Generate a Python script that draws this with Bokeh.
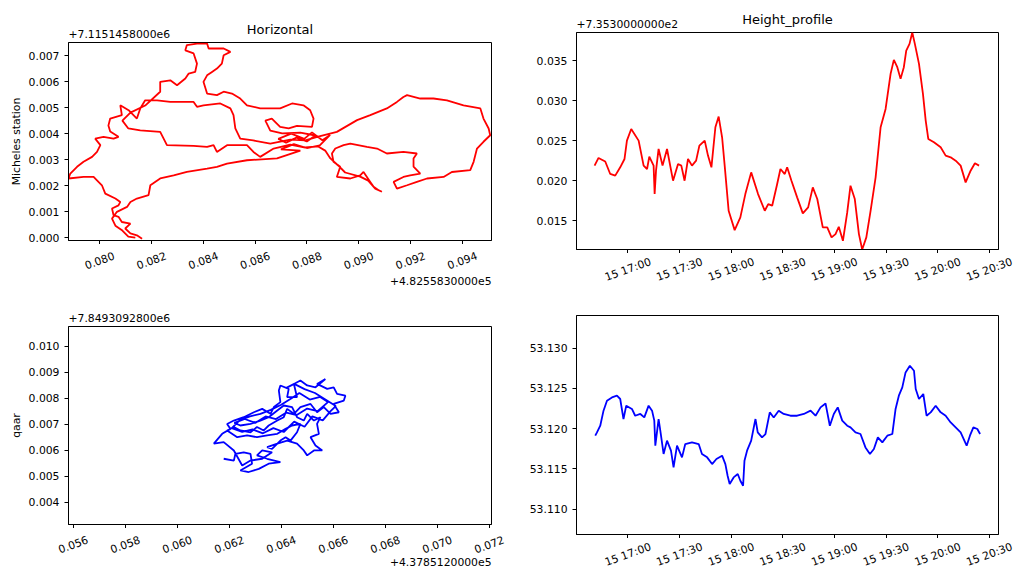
import datetime as dt
from bokeh.plotting import figure
from bokeh.layouts import row, column
from bokeh.models import Range1d, FixedTicker, PrintfTickFormatter, CustomJSTickFormatter
from bokeh.core.properties import value
from bokeh.embed import file_html
from bokeh.resources import INLINE

# ---------------- data ----------------
# Horizontal track, Micheles station (mm above the offsets)
mich_east_mm = [81.64, 81.44, 81.19, 80.99, 81.19, 80.86, 80.73, 80.54, 80.48, 80.73, 80.80, 80.61, 80.22, 80.09, 79.90, 79.77, 79.38, 78.80, 78.87, 79.13,
                79.38, 79.71, 79.90, 80.03, 79.83, 80.15, 80.54, 80.73, 80.41, 80.34, 80.41, 80.86, 80.80, 81.12, 81.44, 81.57, 81.76,
                82.22, 82.73, 83.63, 83.76, 84.01, 84.66, 85.05, 85.17, 85.24, 85.43, 85.93, 86.59, 87.36, 87.94, 88.44,
                89.16, 89.94, 90.45, 91.09, 91.48, 91.73, 91.87, 92.38, 92.89, 93.41, 94.05, 94.70, 94.82, 95.02, 95.08, 94.82, 94.57, 94.44,
                94.31, 93.60, 93.28, 92.64, 92.25, 91.87, 91.48, 91.35, 91.73, 91.99, 92.38, 92.12, 92.12, 92.25, 91.73, 91.09, 90.71, 90.32,
                89.68, 89.42, 89.10, 88.97, 89.03, 89.29, 89.16, 89.68, 90.06, 90.19, 90.45, 90.58, 90.77, 90.90, 90.64, 90.37, 90.06, 89.48,
                89.21, 88.91, 88.71, 88.44,
                87.94, 87.36, 86.72, 86.20, 85.94, 85.69, 84.92, 84.53, 84.40, 84.15, 83.63, 82.60, 82.34, 81.57, 81.11,
                80.88, 81.19, 81.76, 82.34, 82.34, 82.73, 82.99, 83.31, 83.44, 83.69, 83.76, 83.63, 83.31, 83.37, 83.76, 84.15, 84.21, 84.79,
                85.05, 84.79, 84.72, 84.53, 84.34, 84.15, 84.01, 84.15, 84.53, 84.79, 85.11, 85.43, 85.69, 86.20, 86.97, 87.43, 87.87, 88.13,
                88.26, 88.20, 87.62, 87.30, 86.97, 86.65, 86.40, 86.59, 87.05, 87.75, 88.33,
                88.00, 87.60, 87.20, 86.90, 87.40, 87.90, 88.20, 88.60, 88.90, 88.50, 88.00, 87.50, 87.00,
                87.75, 87.17,
                86.85, 85.69, 84.92, 84.53, 84.15, 83.37, 82.86, 82.34, 81.96, 81.89, 81.44, 81.19, 81.06, 80.67, 80.48, 80.61, 80.88, 81.11, 81.38]
mich_north_mm = [-0.03, 0.10, 0.17, 0.36, 0.55, 0.61, 0.81, 0.87, 1.13, 1.25, 1.38, 1.51, 1.70, 2.02, 2.21, 2.34, 2.34, 2.28, 2.47, 2.73,
                 2.92, 3.11, 3.30, 3.56, 3.81, 3.88, 3.81, 3.88, 4.08, 4.31, 4.58, 4.71, 5.09, 4.90, 4.58, 4.97, 5.28,
                 5.28, 5.22, 5.22, 5.03, 5.09, 5.16, 4.97, 4.71, 4.20, 3.81, 3.74, 3.62, 3.77, 3.74, 3.89,
                 4.07, 4.52, 4.71, 4.97, 5.22, 5.41, 5.48, 5.35, 5.35, 5.28, 5.09, 4.97, 4.58, 4.20, 3.94, 3.69, 3.43, 2.92,
                 2.60, 2.53, 2.34, 2.28, 2.15, 2.02, 1.89, 2.15, 2.34, 2.40, 2.47, 2.74, 3.05, 3.24, 3.30, 3.24, 3.43, 3.49,
                 3.62, 3.56, 3.43, 3.24, 2.92, 2.73, 2.34, 2.28, 2.40, 2.53, 2.15, 1.96, 1.83, 1.77, 1.89, 2.20, 2.35, 2.51,
                 2.78, 3.05, 3.35, 3.51,
                 3.47, 3.58, 3.43, 3.11, 3.30, 3.56, 3.56, 3.30, 3.56, 3.49, 3.53, 3.56, 4.07, 4.13, 4.20,
                 4.50, 4.81, 5.08, 5.61, 5.99, 6.05, 5.86, 6.12, 6.31, 6.37, 6.69, 7.08, 7.20, 7.40, 7.46, 7.46, 7.27, 7.27,
                 7.14, 7.01, 6.69, 6.50, 6.37, 6.24, 5.99, 5.54, 5.48, 5.61, 5.54, 5.35, 5.09, 4.97, 4.97, 5.16, 5.09, 4.90,
                 4.58, 4.26, 4.30, 4.20, 4.26, 4.58, 4.50, 4.12, 4.01, 4.04, 3.93,
                 3.70, 3.85, 3.65, 3.80, 4.00, 3.80, 4.05, 3.75, 3.95, 3.55, 3.45, 3.60, 3.40,
                 3.35, 3.16,
                 3.05, 2.98, 2.85, 2.73, 2.66, 2.53, 2.40, 2.28, 2.02, 1.64, 1.51, 1.38, 1.19, 1.00, 0.74, 0.47, 0.28, 0.05, 0.01]

# Horizontal track, qaar (mm above the offsets)
qaar_east_mm = [61.79, 62.18, 62.24, 62.56, 62.82, 62.88, 62.43, 62.75, 63.14, 63.52, 63.97, 63.46, 63.07, 63.27, 63.65, 63.27, 62.82, 62.50,
                62.18, 61.79, 61.41, 61.73, 62.05, 61.92, 62.18, 62.56, 62.95, 63.27, 63.59, 63.72, 63.97, 63.91, 63.97, 64.29, 64.23, 64.61,
                64.49, 64.74, 65.00, 65.32, 65.70, 65.38, 65.77, 66.02, 66.15, 66.47, 66.41, 66.02, 66.22, 65.90, 65.64, 65.38, 65.13, 64.74,
                64.49, 64.23, 64.10, 63.85, 63.52, 63.33, 63.07, 62.82, 62.43, 62.18, 61.92, 62.31, 62.69, 63.07, 63.46, 63.85, 64.17, 64.42,
                64.74, 64.61, 64.36, 64.17, 63.97, 63.65, 63.46, 63.85, 64.23, 64.61, 64.87, 65.00, 65.26, 65.58, 65.32, 65.13, 65.45, 65.38,
                65.51, 65.26, 65.00, 64.87, 64.61, 64.42, 64.10, 63.85, 63.52, 63.20, 62.82, 62.43,
                62.20, 62.60, 63.00, 63.40, 63.80, 64.20, 64.60, 65.00, 65.40, 65.80, 65.50, 65.10, 64.70, 64.40, 64.00, 63.60, 63.20, 62.80,
                62.40, 62.10, 62.50, 62.90, 63.30, 63.70, 64.10, 64.50, 64.90, 65.20, 65.60, 65.90, 66.10, 65.70, 65.30, 64.90, 64.50, 64.20]
qaar_north_mm = [5.67, 5.60, 5.86, 5.92, 5.86, 5.48, 5.22, 5.16, 5.28, 5.48, 5.54, 5.67, 5.80, 5.99, 5.92, 5.67, 5.60, 5.41,
                 5.99, 6.31, 6.25, 6.63, 6.82, 7.01, 7.14, 7.27, 7.46, 7.59, 7.40, 7.66, 7.85, 8.30, 8.49, 8.36, 8.04, 8.04,
                 8.55, 8.68, 8.49, 8.42, 8.74, 8.55, 8.36, 8.42, 8.17, 8.10, 7.91, 7.78, 7.46, 7.40, 7.66, 7.46, 7.78, 7.66,
                 7.40, 7.59, 7.27, 7.14, 6.95, 6.76, 6.89, 6.69, 6.76, 6.89, 6.76, 6.50, 6.57, 6.50, 6.57, 6.63, 6.82, 6.95,
                 7.01, 6.69, 6.37, 6.50, 6.37, 6.05, 6.12, 6.25, 6.37, 6.25, 5.99, 5.80, 5.99, 5.99, 6.18, 6.50, 6.63, 7.01,
                 7.27, 7.14, 7.40, 7.14, 7.27, 7.66, 7.72, 7.53, 7.27, 7.14, 7.01, 6.95,
                 7.05, 7.20, 7.05, 7.30, 7.20, 7.45, 7.35, 7.60, 7.50, 7.85, 8.05, 7.95, 8.20, 8.00, 7.75, 7.55, 7.40, 7.30,
                 7.15, 6.85, 6.70, 6.80, 6.65, 6.85, 6.70, 7.10, 6.90, 7.30, 7.15, 7.50, 7.70, 7.95, 8.20, 8.35, 8.55, 8.40]

# Height profile, Micheles station: minutes after 16:00, metres above 735.3
mich_minutes = [40.6, 42.9, 46.8, 49.7, 52.6, 55.5, 58.0, 59.4, 61.9, 66.2, 69.1, 71.1, 72.4, 74.9, 75.5, 76.3, 77.8, 80.1, 82.7, 86.2,
                89.1, 91.0, 92.9, 94.9, 97.2, 99.6, 101.5, 104.6, 106.5, 108.5, 110.8, 112.7, 114.7, 116.2, 118.5, 122.0, 125.3, 128.2,
                131.6, 135.6, 139.5, 141.5, 143.8, 146.7, 148.6, 151.1, 152.5, 155.0, 158.3, 161.6, 164.7, 167.4, 170.0, 173.2, 175.8,
                178.3, 180.6, 182.5, 184.9, 187.4, 189.3, 191.8, 194.2, 196.1, 198.5, 201.0, 203.9, 206.8, 209.7, 212.6, 214.5, 216.5,
                218.4, 220.3, 221.7, 223.6, 225.2, 226.7, 229.1, 231.4, 233.0, 234.5, 237.8, 241.7, 244.6, 247.5, 250.4, 253.3, 256.2,
                259.1, 261.6, 264.0]
mich_height = [0.02188, 0.02284, 0.02240, 0.02084, 0.02063, 0.02167, 0.02271, 0.02500, 0.02646, 0.02500, 0.02188, 0.02146, 0.02300,
               0.02188, 0.01833, 0.02125, 0.02396, 0.02188, 0.02396, 0.02000, 0.02208, 0.02188, 0.02000, 0.02271, 0.02188, 0.02250,
               0.02438, 0.02500, 0.02313, 0.02167, 0.02667, 0.02800, 0.02542, 0.02188, 0.01625, 0.01383, 0.01542, 0.01833, 0.02104,
               0.01833, 0.01625, 0.01708, 0.01688, 0.01958, 0.02146, 0.02083, 0.02167, 0.02000, 0.01792, 0.01592, 0.01667, 0.01917,
               0.01771, 0.01417, 0.01417, 0.01292, 0.01333, 0.01425, 0.01250, 0.01604, 0.01938, 0.01771, 0.01333, 0.01141, 0.01292,
               0.01625, 0.02042, 0.02667, 0.02896, 0.03333, 0.03508, 0.03417, 0.03271, 0.03417, 0.03625, 0.03708, 0.03850, 0.03708,
               0.03458, 0.03083, 0.02750, 0.02521, 0.02479, 0.02417, 0.02313, 0.02292, 0.02250, 0.02188, 0.01979, 0.02125, 0.02217,
               0.02188]

# Height profile, qaar: minutes after 16:00, metres
qaar_minutes = [41.0, 42.0, 43.9, 45.8, 47.8, 50.7, 53.6, 55.5, 57.4, 59.0, 62.3, 64.2, 67.2, 69.5, 72.0, 74.0, 75.3, 75.9, 77.8, 78.8,
                80.7, 82.7, 85.0, 86.5, 88.5, 91.4, 93.3, 97.2, 101.1, 103.0, 106.0, 108.9, 111.4, 114.7, 116.6, 117.9, 119.1, 121.4,
                123.8, 125.3, 126.9, 127.7, 129.2, 131.6, 133.5, 134.1, 135.4, 137.9, 139.9, 142.4, 144.7, 147.6, 150.5, 154.4, 158.3,
                162.2, 166.1, 169.0, 171.9, 174.8, 177.3, 179.6, 181.9, 184.5, 187.4, 189.3, 192.2, 195.1, 198.0, 200.6, 202.9, 205.2,
                207.8, 210.7, 213.6, 215.5, 217.4, 219.4, 221.3, 223.8, 226.2, 227.2, 229.1, 231.6, 233.5, 235.9, 238.8, 241.7, 244.6,
                247.5, 250.4, 253.3, 256.8, 258.7, 260.7, 263.0, 264.6]
qaar_height = [53.11913, 53.11954, 53.12037, 53.12224, 53.12348, 53.12389, 53.12410, 53.12369, 53.12120, 53.12286, 53.12245, 53.12161,
               53.12183, 53.12140, 53.12286, 53.12224, 53.12100, 53.11789, 53.12120, 53.11975, 53.11686, 53.11851, 53.11727, 53.11520,
               53.11789, 53.11644, 53.11810, 53.11830, 53.11810, 53.11686, 53.11644, 53.11561, 53.11624, 53.11665, 53.11561, 53.11416,
               53.11313, 53.11395, 53.11437, 53.11354, 53.11292, 53.11603, 53.11727, 53.11851, 53.12058, 53.12120, 53.11954, 53.11892,
               53.11934, 53.12203, 53.12140, 53.12224, 53.12183, 53.12161, 53.12161, 53.12183, 53.12224, 53.12161, 53.12265, 53.12314,
               53.12037, 53.12183, 53.12265, 53.12100, 53.12037, 53.12016, 53.11954, 53.11934, 53.11768, 53.11686, 53.11748, 53.11892,
               53.11830, 53.11913, 53.11934, 53.12245, 53.12410, 53.12513, 53.12699, 53.12782, 53.12720, 53.12493, 53.12369, 53.12431,
               53.12161, 53.12203, 53.12286, 53.12203, 53.12161, 53.12078, 53.12016, 53.11954, 53.11789, 53.11913, 53.12016, 53.11996,
               53.11934]

# ticks
tl_xticks = [0.080, 0.082, 0.084, 0.086, 0.088, 0.090, 0.092, 0.094]
tl_yticks = [0.000, 0.001, 0.002, 0.003, 0.004, 0.005, 0.006, 0.007]
bl_xticks = [0.056, 0.058, 0.060, 0.062, 0.064, 0.066, 0.068, 0.070, 0.072]
bl_yticks = [0.004, 0.005, 0.006, 0.007, 0.008, 0.009, 0.010]
tr_yticks = [0.015, 0.020, 0.025, 0.030, 0.035]
br_yticks = [53.110, 53.115, 53.120, 53.125, 53.130]
time_tick_minutes = [60, 90, 120, 150, 180, 210, 240, 270]

title_left = "Horizontal"
title_right = "Height_profile"
ylabel_top = "Micheles station"
ylabel_bottom = "qaar"
offset_mich_n = "+7.1151458000e6"
offset_mich_e = "+4.8255830000e5"
offset_mich_h = "+7.3530000000e2"
offset_qaar_n = "+7.8493092800e6"
offset_qaar_e = "+4.3785120000e5"

# ---------------- helpers ----------------
FONT = "DejaVu Sans"
TICK_PX = "10.8px"
LINE_W = 1.8
BASE = dt.datetime(2019, 8, 15, 16, 0)
EPOCH = dt.datetime(1970, 1, 1)


def ms(d):
    return (d - EPOCH).total_seconds() * 1000.0


def tmin(m):
    return BASE + dt.timedelta(minutes=m)


def plain(width, height, xr, yr):
    f = figure(width=width, height=height, output_backend="svg", toolbar_location=None,
               x_range=xr, y_range=yr, x_axis_location=None, y_axis_location=None,
               min_border=0, min_border_left=0, min_border_right=0, min_border_top=0, min_border_bottom=0)
    f.frame_align = False
    f.outline_line_color = None
    f.background_fill_color = "white"
    f.border_fill_color = "white"
    f.grid.visible = False
    return f


def put(f, xs, ys, texts, align="left", angle=0, size=TICK_PX):
    f.text(x=xs, y=ys, text=texts, text_font=value(FONT), text_font_size=size, text_color="black",
           text_align=align, text_baseline="middle", angle=angle, angle_units="deg")


def main_plot(width, height, xr, yr, left, right, xtype="linear"):
    p = figure(width=width, height=height, output_backend="svg", toolbar_location=None,
               x_range=xr, y_range=yr, x_axis_type=xtype,
               min_border_left=left, min_border_right=right, min_border_top=0, min_border_bottom=4)
    p.grid.visible = False
    p.outline_line_color = "black"
    p.outline_line_width = 1
    p.background_fill_color = "white"
    p.border_fill_color = "white"
    for ax in p.axis:
        ax.axis_line_color = "black"
        ax.major_tick_line_color = "black"
        ax.minor_tick_line_color = None
        ax.major_tick_out = 4
        ax.major_tick_in = 0
        ax.major_label_text_font = FONT
        ax.major_label_text_font_size = TICK_PX
        ax.major_label_text_color = "black"
        ax.major_label_standoff = 5
        ax.axis_label_text_font = FONT
        ax.axis_label_text_font_size = TICK_PX
        ax.axis_label_text_font_style = "normal"
        ax.axis_label_text_color = "black"
        ax.axis_label_standoff = 3
    p.xaxis.formatter = CustomJSTickFormatter(code="return ''")
    p.xaxis.major_label_text_font_size = "0px"
    p.xaxis.major_label_standoff = 0
    p.yaxis.formatter = PrintfTickFormatter(format="%.3f")
    return p


def tick_strip(width, height, left, right, lo, hi, ticks, texts, label_y, offset_text=None, offset_y=0):
    fw = width - left - right
    s = (hi - lo) / fw
    f = plain(width, height, Range1d(lo - left * s, hi + right * s), Range1d(0, height))
    put(f, ticks, [label_y] * len(ticks), texts, align="center", angle=20)
    if offset_text:
        put(f, [hi], [offset_y], [offset_text], align="right")
    return f


# ---------------- left column ----------------
LW, LL, LR = 510, 68, 19
t1 = plain(LW, 42, Range1d(0, LW), Range1d(0, 42))
put(t1, [279.5], [13], [title_left], align="center", size="13px")
put(t1, [LL], [9], [offset_mich_n])

x1 = (0.07880, 0.09513)
p1 = main_plot(LW, 202, Range1d(*x1), Range1d(-0.0001, 0.0075), LL, LR)
p1.line([v / 1000 for v in mich_east_mm], [v / 1000 for v in mich_north_mm], line_color="red", line_width=LINE_W)
p1.xaxis.ticker = FixedTicker(ticks=tl_xticks)
p1.yaxis.ticker = FixedTicker(ticks=tl_yticks)
p1.yaxis.axis_label = ylabel_top
s1 = tick_strip(LW, 51, LL, LR, x1[0], x1[1], tl_xticks, ["%.3f" % v for v in tl_xticks], 35, offset_mich_e, 15)

t3 = plain(LW, 31, Range1d(0, LW), Range1d(0, 31))
put(t3, [LL], [9], [offset_qaar_n])

x3 = (0.05582, 0.07209)
p3 = main_plot(LW, 202, Range1d(*x3), Range1d(0.00314, 0.01076), LL, LR)
p3.line([v / 1000 for v in qaar_east_mm], [v / 1000 for v in qaar_north_mm], line_color="blue", line_width=LINE_W)
p3.xaxis.ticker = FixedTicker(ticks=bl_xticks)
p3.yaxis.ticker = FixedTicker(ticks=bl_yticks)
p3.yaxis.axis_label = ylabel_bottom
s3 = tick_strip(LW, 40, LL, LR, x3[0], x3[1], bl_xticks, ["%.3f" % v for v in bl_xticks], 24, offset_qaar_e, 6.5)

# ---------------- right column ----------------
RW, RL, RR = 503, 66, 15
t_lo, t_hi = ms(tmin(30.1)), ms(tmin(275.3))
time_ticks = [ms(tmin(m)) for m in time_tick_minutes]
time_texts = [tmin(m).strftime("%d %H:%M") for m in time_tick_minutes]

t2 = plain(RW, 32, Range1d(0, RW), Range1d(0, 32))
put(t2, [277], [13], [title_right], align="center", size="13px")
put(t2, [RL], [9], [offset_mich_h])

p2 = main_plot(RW, 221, Range1d(t_lo, t_hi), Range1d(0.01141, 0.03850), RL, RR, xtype="datetime")
p2.line([ms(tmin(m)) for m in mich_minutes], mich_height, line_color="red", line_width=LINE_W)
p2.xaxis.ticker = FixedTicker(ticks=time_ticks)
p2.yaxis.ticker = FixedTicker(ticks=tr_yticks)
s2 = tick_strip(RW, 42, RL, RR, t_lo, t_hi, time_ticks, time_texts, 26)

t4 = plain(RW, 20, Range1d(0, RW), Range1d(0, 20))

p4 = main_plot(RW, 223, Range1d(t_lo, t_hi), Range1d(53.10686, 53.13406), RL, RR, xtype="datetime")
p4.line([ms(tmin(m)) for m in qaar_minutes], qaar_height, line_color="blue", line_width=LINE_W)
p4.xaxis.ticker = FixedTicker(ticks=time_ticks)
p4.yaxis.ticker = FixedTicker(ticks=br_yticks)
s4 = tick_strip(RW, 30, RL, RR, t_lo, t_hi, time_ticks, time_texts, 14)

layout = row(column(t1, p1, s1, t3, p3, s3, spacing=0), column(t2, p2, s2, t4, p4, s4, spacing=0), spacing=0)
open("out.html", "w").write(file_html(layout, INLINE))
